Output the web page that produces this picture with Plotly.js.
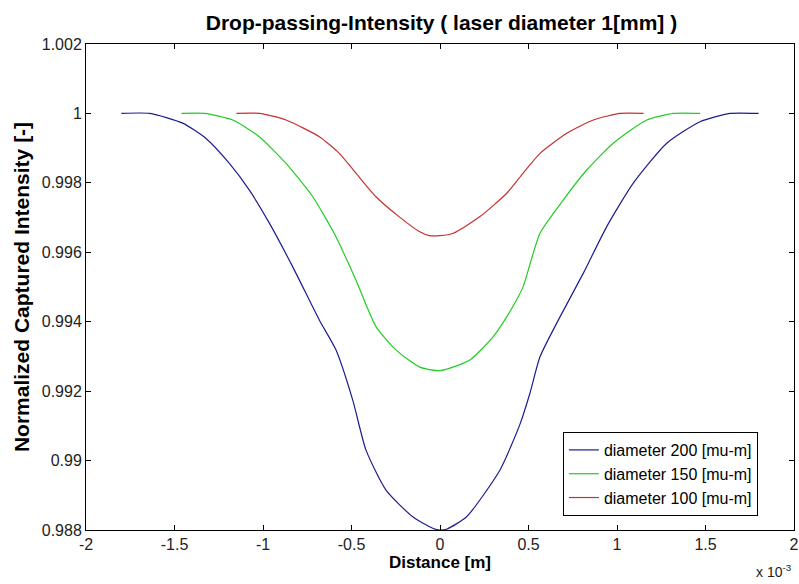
<!DOCTYPE html>
<html>
<head>
<meta charset="utf-8">
<script src="https://cdn.plot.ly/plotly-3.0.1.min.js"></script>
<style>html,body{margin:0;padding:0;background:#fff;}#chart{width:799px;height:584px;}</style>
</head>
<body>
<div id="chart"></div>
<script>
// Distance in units of 1e-3 m
const blueX = [-1.80,-1.64,-1.454,-1.322,-1.19,-1.077,-0.964,-0.832,-0.682,-0.588,-0.493,-0.418,-0.305,-0.154,-0.041,0,0.04,0.15,0.339,0.452,0.508,0.565,0.678,0.81,0.942,1.092,1.281,1.469,1.638,1.80];
const blueY = [1.0,1.0,0.99972,0.99928,0.99856,0.99779,0.99684,0.99558,0.99405,0.99319,0.99174,0.99030,0.98915,0.98838,0.98805,0.98800,0.98803,0.98838,0.98973,0.99105,0.99194,0.99299,0.99414,0.9954,0.99674,0.99799,0.99914,0.99976,1.0,1.0];
const greenX = [-1.46,-1.33,-1.171,-1.021,-0.87,-0.719,-0.588,-0.475,-0.362,-0.249,-0.117,0,0.169,0.301,0.377,0.433,0.47,0.565,0.697,0.829,0.979,1.168,1.318,1.469];
const greenY = [1.0,1.0,0.99981,0.99933,0.99856,0.9976,0.99645,0.9952,0.99386,0.99319,0.99270,0.99259,0.99290,0.99357,0.99414,0.99463,0.99501,0.99655,0.99751,0.99837,0.99914,0.99981,1.0,1.0];
const redX = [-1.15,-1.02,-0.87,-0.682,-0.569,-0.475,-0.362,-0.23,-0.117,-0.06,0,0.075,0.226,0.377,0.47,0.565,0.716,0.866,1.017,1.15];
const redY = [1.0,1.0,0.99981,0.99933,0.99885,0.99828,0.9976,0.99702,0.9966,0.99648,0.99648,0.99655,0.99703,0.9977,0.99828,0.99885,0.99943,0.99981,1.0,1.0];
const seriesNames = ["diameter 200 [mu-m]","diameter 150 [mu-m]","diameter 100 [mu-m]"];
const xTickVals = [-2,-1.5,-1,-0.5,0,0.5,1,1.5,2];
const xTickText = ["-2","-1.5","-1","-0.5","0","0.5","1","1.5","2"];
const yTickVals = [0.988,0.99,0.992,0.994,0.996,0.998,1,1.002];
const yTickText = ["0.988","0.99","0.992","0.994","0.996","0.998","1","1.002"];

const F = "Liberation Sans, Arial, sans-serif";
const ln = (c) => ({color: c, width: 1.2, shape: "spline", smoothing: 0.6});
const traces = [
  {x: blueX, y: blueY, name: seriesNames[0], mode: "lines", line: ln("#1c1c90")},
  {x: greenX, y: greenY, name: seriesNames[1], mode: "lines", line: ln("#22cc22")},
  {x: redX, y: redY, name: seriesNames[2], mode: "lines", line: ln("#c83030")}
];
const axCommon = {
  showgrid: false, zeroline: false, showline: true, linecolor: "#000", linewidth: 1,
  mirror: "ticks", ticks: "inside", ticklen: 5, tickcolor: "#000",
  tickfont: {family: F, size: 16, color: "#222"}
};
const layout = {
  width: 799, height: 584,
  margin: {l: 86, r: 5, t: 44, b: 54},
  paper_bgcolor: "#fff", plot_bgcolor: "#fff",
  showlegend: true,
  title: {text: "<b>Drop-passing-Intensity ( laser diameter 1[mm] )</b>", font: {family: F, size: 21, color: "#000"}, x: 0.5525, xanchor: "center", y: 0.962, yanchor: "middle"},
  xaxis: Object.assign({}, axCommon, {range: [-2, 2], tickvals: xTickVals, ticktext: xTickText,
    title: {text: "<b>Distance [m]</b>", font: {family: F, size: 17, color: "#000"}, standoff: 2}}),
  yaxis: Object.assign({}, axCommon, {range: [0.988, 1.002], tickvals: yTickVals, ticktext: yTickText,
    title: {text: "<b>Normalized Captured Intensity [-]</b>", font: {family: F, size: 21, color: "#000"}, standoff: 6}}),
  legend: {x: 0.949, xanchor: "right", y: 0.2016, yanchor: "top", bgcolor: "#fff", bordercolor: "#000", borderwidth: 1,
    font: {family: F, size: 16, color: "#000"}, tracegroupgap: 0},
  annotations: [{xref: "paper", yref: "paper", x: 1.0, y: -0.085, xanchor: "right", yanchor: "middle", showarrow: false,
    text: "x 10<sup>-3</sup>", font: {family: F, size: 14, color: "#222"}}]
};
Plotly.newPlot("chart", traces, layout, {displayModeBar: false, staticPlot: true});
</script>
</body>
</html>
